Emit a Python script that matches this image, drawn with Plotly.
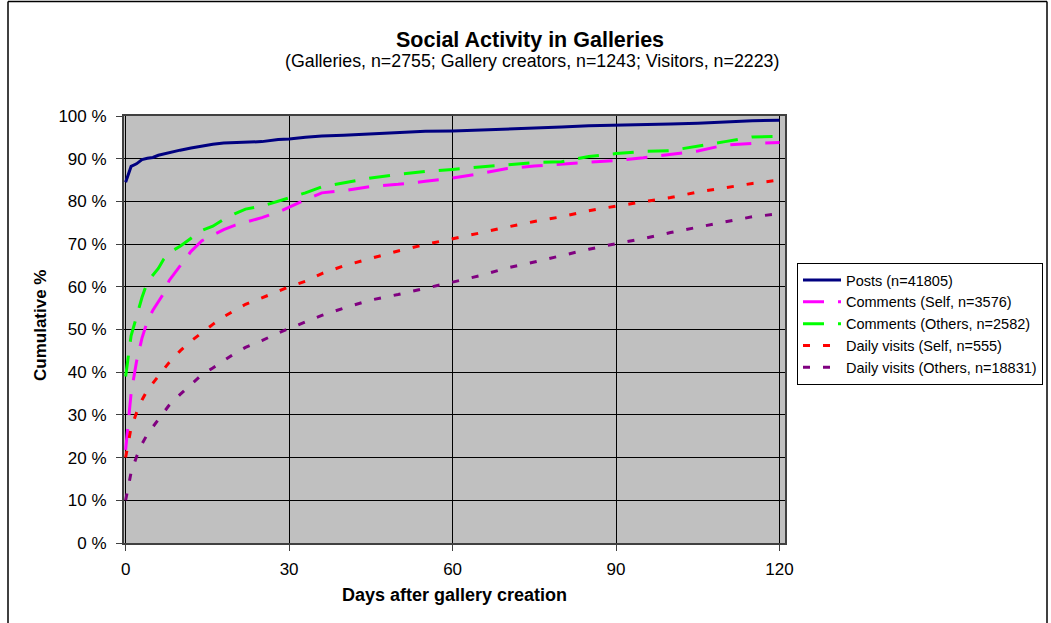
import plotly.graph_objects as go

days = [0, 1, 2, 3, 4, 5, 6, 7, 8, 10, 12, 14, 16, 18, 20, 22, 25, 28, 30, 33, 36,
        40, 45, 50, 55, 60, 65, 70, 75, 80, 85, 90, 95, 100, 105, 110, 115, 120]

posts = [84.5, 88.2, 88.8, 89.8, 90.1, 90.3, 90.8, 91.1, 91.5, 92.0, 92.5, 93.0, 93.4, 93.7,
         93.8, 93.9, 94.0, 94.5, 94.6, 95.0, 95.3, 95.5, 95.8, 96.2, 96.4, 96.5, 96.7, 96.9,
         97.2, 97.4, 97.7, 97.8, 98.0, 98.1, 98.3, 98.6, 98.9, 99.0]
comments_self = [21.8, 35.0, 42.5, 48.0, 52.0, 54.5, 56.5, 58.5, 61.5, 64.8, 68.3, 70.8, 72.2,
                 73.4, 74.4, 75.1, 76.2, 77.5, 78.7, 80.4, 82.0, 82.5, 83.5, 84.0, 84.7, 85.5,
                 86.5, 87.7, 88.3, 88.7, 89.2, 89.6, 90.2, 91.0, 91.8, 93.2, 93.6, 93.8]
comments_others = [39.0, 48.5, 53.0, 57.5, 61.2, 62.8, 64.3, 66.5, 68.0, 69.5, 71.4, 73.2, 74.2,
                   75.8, 77.1, 78.2, 78.9, 80.0, 80.8, 82.0, 83.4, 84.4, 85.5, 86.3, 87.0, 87.5,
                   88.0, 88.6, 89.1, 89.3, 90.5, 91.2, 91.7, 91.9, 92.9, 94.0, 95.1, 95.2]
visits_self = [20.0, 27.0, 30.5, 33.5, 35.8, 37.5, 39.1, 40.7, 42.3, 45.0, 47.3, 49.3, 51.2,
               53.0, 54.5, 55.9, 57.4, 59.0, 60.0, 61.3, 63.1, 64.9, 66.7, 68.4, 69.9, 71.2,
               72.6, 74.0, 75.3, 76.4, 77.8, 78.9, 79.9, 80.9, 82.2, 83.2, 84.2, 85.0]
visits_others = [10.0, 16.5, 20.2, 23.2, 25.5, 27.2, 28.9, 30.8, 32.3, 34.8, 37.0, 39.4, 41.0,
                 42.8, 44.4, 45.8, 47.4, 49.2, 50.2, 51.7, 53.3, 55.0, 56.9, 58.2, 59.6, 61.1,
                 62.6, 64.4, 65.8, 67.3, 68.8, 70.1, 71.3, 72.7, 74.0, 75.2, 76.4, 77.1]

series_names = ["Posts (n=41805)", "Comments (Self, n=3576)", "Comments (Others, n=2582)",
                "Daily visits (Self, n=555)", "Daily visits (Others, n=18831)"]
x_ticks = [0, 30, 60, 90, 120]
y_ticks = [0, 10, 20, 30, 40, 50, 60, 70, 80, 90, 100]
y_tick_labels = [f"{v} %" for v in y_ticks]

# Body margin is removed via post_script, so figure pixels == page pixels.
W, H = 1051, 623
L, R, T, B = 124, 785, 116, 543


def px(xp):  # page pixel x -> paper coordinate
    return (xp - L) / (R - L)


def py(yp):  # page pixel y -> paper coordinate
    return (B - yp) / (B - T)


FONT = "Liberation Sans, Arial, sans-serif"

styles = [
    dict(color="#000080", width=3, dash="solid"),
    dict(color="#FF00FF", width=3, dash="21px,14px"),
    dict(color="#00FF00", width=3, dash="21px,14px"),
    dict(color="#FF0000", width=3, dash="7px,13px"),
    dict(color="#800080", width=3, dash="7px,13px"),
]
values = [posts, comments_self, comments_others, visits_self, visits_others]

fig = go.Figure()
for name, vals, st in zip(series_names, values, styles):
    fig.add_trace(go.Scatter(x=days, y=vals, mode="lines", name=name, line=st))

fig.update_layout(
    width=W, height=H,
    margin=dict(l=L, r=W - R, t=T, b=H - B, autoexpand=False),
    paper_bgcolor="white",
    plot_bgcolor="#C0C0C0",
    font=dict(family=FONT, size=15, color="black"),
    showlegend=True,
    legend=dict(x=px(797), y=py(263), xanchor="left", yanchor="top",
                bgcolor="white", bordercolor="black", borderwidth=1,
                font=dict(family=FONT, size=14.5, color="black"),
                tracegroupgap=0, itemwidth=38),
    xaxis=dict(range=[-0.3, 121], tickvals=x_ticks, ticktext=[str(v) for v in x_ticks],
               showgrid=True, gridcolor="black", gridwidth=1, zeroline=False,
               showline=True, linecolor="#404040", linewidth=2, mirror=True,
               ticks="outside", ticklen=6, tickcolor="#404040", ticklabelstandoff=4,
               automargin=False, tickfont=dict(family=FONT, size=17)),
    yaxis=dict(range=[0, 100], tickvals=y_ticks, ticktext=y_tick_labels,
               showgrid=True, gridcolor="black", gridwidth=1, zeroline=False,
               showline=True, linecolor="#404040", linewidth=2, mirror=True,
               ticks="outside", ticklen=6, tickcolor="#404040", ticklabelstandoff=6,
               automargin=False, tickfont=dict(family=FONT, size=17)),
    annotations=[
        dict(text="<b>Social Activity in Galleries</b>", x=px(530), y=py(40),
             xref="paper", yref="paper", showarrow=False, xanchor="center", yanchor="middle",
             font=dict(family=FONT, size=21.5)),
        dict(text="(Galleries, n=2755; Gallery creators, n=1243; Visitors, n=2223)",
             x=px(532), y=py(61), xref="paper", yref="paper", showarrow=False,
             xanchor="center", yanchor="middle", font=dict(family=FONT, size=17.8)),
        dict(text="<b>Cumulative %</b>", x=px(40), y=py(326), xref="paper", yref="paper",
             showarrow=False, textangle=-90, xanchor="center", yanchor="middle",
             font=dict(family=FONT, size=17)),
        dict(text="<b>Days after gallery creation</b>", x=px(454), y=py(595), xref="paper",
             yref="paper", showarrow=False, xanchor="center", yanchor="middle",
             font=dict(family=FONT, size=18)),
    ],
    shapes=[
        dict(type="line", xref="paper", yref="paper", x0=px(8), x1=px(1047), y0=py(1.5), y1=py(1.5),
             line=dict(color="black", width=1.5)),
        dict(type="line", xref="paper", yref="paper", x0=px(8), x1=px(8), y0=py(1.5), y1=py(640),
             line=dict(color="black", width=1.5)),
        dict(type="line", xref="paper", yref="paper", x0=px(1047), x1=px(1047), y0=py(1.5), y1=py(640),
             line=dict(color="black", width=1.5)),
    ],
)

fig.write_html("out.html", config={"displayModeBar": False},
               post_script="document.body.style.margin='0';document.body.style.overflow='hidden';")
